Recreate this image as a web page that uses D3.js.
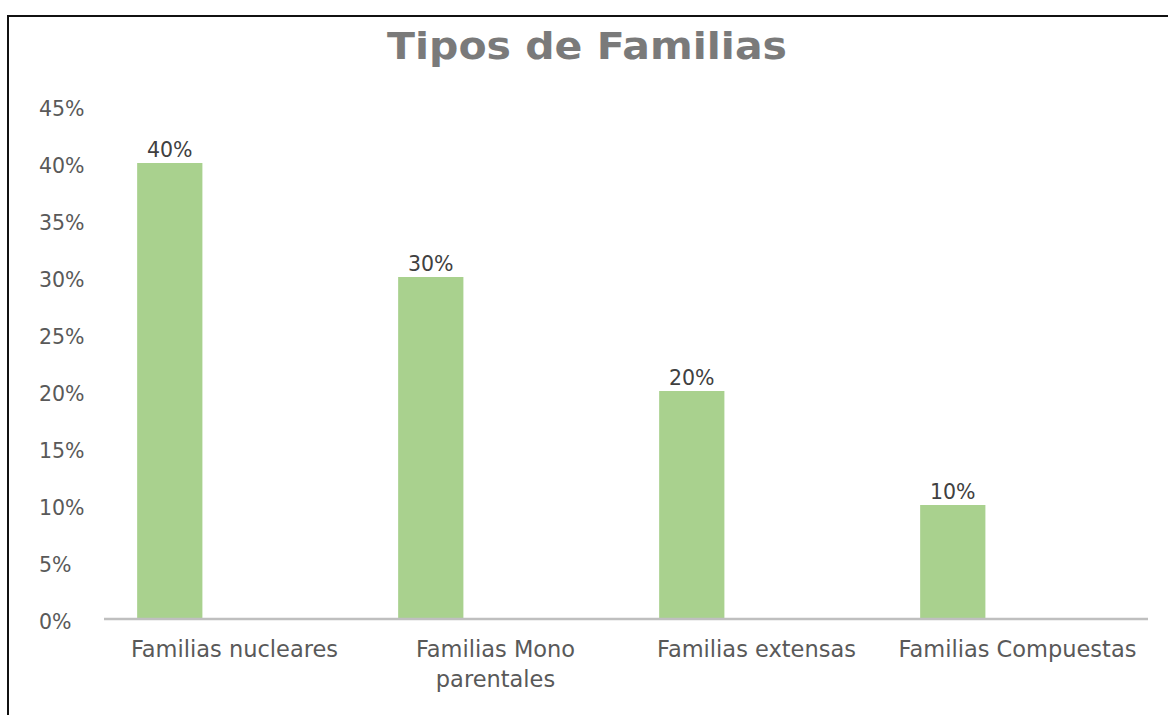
<!DOCTYPE html>
<html>
<head>
<meta charset="utf-8">
<script src="https://cdn.jsdelivr.net/npm/d3@7/dist/d3.min.js"></script>
<style>
  html, body { margin: 0; padding: 0; background: #fff; }
  svg { display: block; }
</style>
</head>
<body>
<svg id="chart" width="1168" height="715"></svg>
<script>
const title = "Tipos de Familias";
const categories = ["Familias nucleares", "Familias Mono parentales", "Familias extensas", "Familias Compuestas"];
const categoryLines = [["Familias nucleares"], ["Familias Mono", "parentales"], ["Familias extensas"], ["Familias Compuestas"]];
const values = [0.40, 0.30, 0.20, 0.10];
const yTicks = [0, 0.05, 0.10, 0.15, 0.20, 0.25, 0.30, 0.35, 0.40, 0.45];

const svg = d3.select("#chart");
const W = 1168, H = 715;
const plot = { left: 104, right: 1148, top: 106, bottom: 619 };

svg.append("rect").attr("width", W).attr("height", H).attr("fill", "#fff");
// frame
svg.append("rect")
  .attr("x", 8).attr("y", 16).attr("width", W + 20).attr("height", H + 20)
  .attr("fill", "none").attr("stroke", "#111").attr("stroke-width", 2);

// title
svg.append("text")
  .attr("x", 587).attr("y", 59)
  .attr("text-anchor", "middle")
  .attr("font-family", "DejaVu Sans")
  .attr("font-weight", "bold")
  .attr("font-size", 38)
  .attr("textLength", 400)
  .attr("lengthAdjust", "spacingAndGlyphs")
  .attr("fill", "#7a7a7a")
  .text(title);

const x = d3.scaleBand().domain(categories).range([plot.left, plot.right]).padding(0);
const y = d3.scaleLinear().domain([0, 0.45]).range([plot.bottom, plot.top]);
const bw = x.bandwidth();
const barOffset = bw * 0.127, barW = bw * 0.25;

// y tick labels
const fmt = d3.format(".0%");
svg.append("g").selectAll("text").data(yTicks).join("text")
  .attr("x", 39).attr("y", d => y(d))
  .attr("dy", "0.5em")
  .attr("font-family", "DejaVu Sans")
  .attr("font-size", 20.5)
  .attr("fill", "#595959")
  .text(d => fmt(d));

// bars
svg.append("g").selectAll("rect").data(values).join("rect")
  .attr("x", (d, i) => x(categories[i]) + barOffset)
  .attr("y", d => y(d))
  .attr("width", barW)
  .attr("height", d => y(0) - y(d))
  .attr("fill", "#a9d18e");

// data labels
svg.append("g").selectAll("text").data(values).join("text")
  .attr("x", (d, i) => x(categories[i]) + barOffset + barW / 2)
  .attr("y", d => y(d) - 6)
  .attr("text-anchor", "middle")
  .attr("font-family", "DejaVu Sans")
  .attr("font-size", 20.5)
  .attr("fill", "#404040")
  .text(d => fmt(d));

// axis line
svg.append("line")
  .attr("x1", plot.left).attr("x2", plot.right)
  .attr("y1", y(0)).attr("y2", y(0))
  .attr("stroke", "#bfbfbf").attr("stroke-width", 2.5);

// category labels
const cat = svg.append("g").selectAll("text").data(categories).join("text")
  .attr("x", d => x(d) + bw / 2)
  .attr("y", 657)
  .attr("text-anchor", "middle")
  .attr("font-family", "DejaVu Sans")
  .attr("font-size", 22.5)
  .attr("fill", "#595959");
cat.each(function(d, i) {
  d3.select(this).selectAll("tspan").data(categoryLines[i]).join("tspan")
    .attr("x", x(d) + bw / 2)
    .attr("dy", (t, j) => j === 0 ? 0 : 30)
    .text(t => t);
});
</script>
</body>
</html>
